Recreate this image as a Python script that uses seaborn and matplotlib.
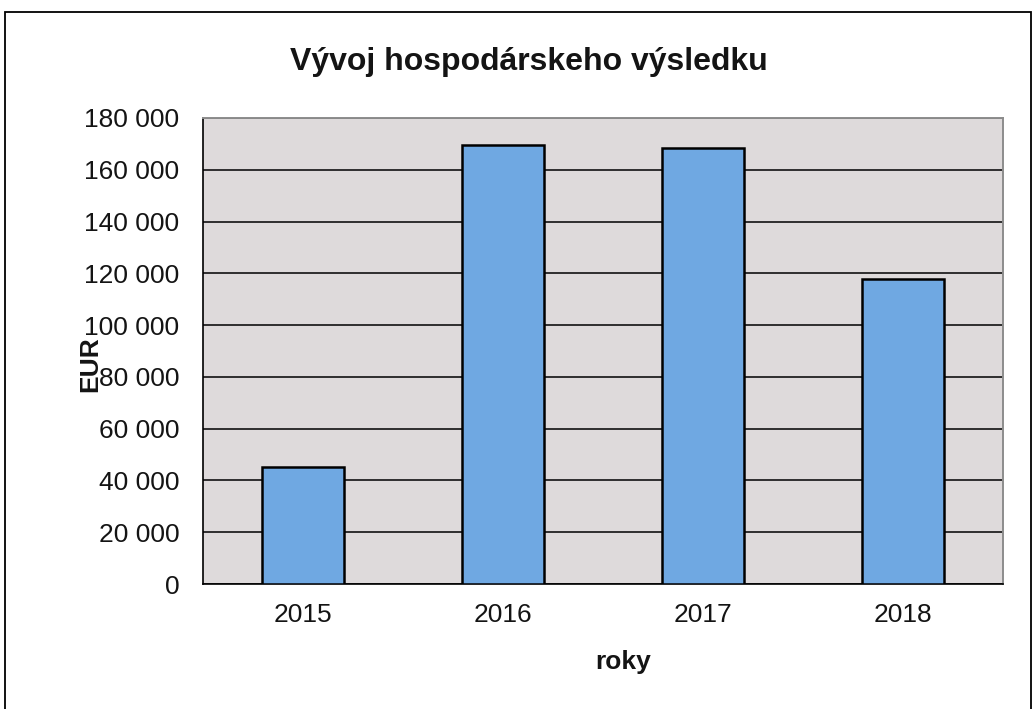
import matplotlib
matplotlib.use("Agg")
import matplotlib.pyplot as plt
import seaborn as sns
import pandas as pd
from matplotlib.patches import Rectangle
from matplotlib.ticker import FuncFormatter, MultipleLocator

years = ["2015", "2016", "2017", "2018"]
values = [45000, 169500, 168300, 117700]

df = pd.DataFrame({"roky": years, "EUR": values})

sns.set_style("white")
plt.rcParams["font.family"] = ["Liberation Sans", "DejaVu Sans"]
plt.rcParams["text.color"] = "#141414"
plt.rcParams["xtick.color"] = "black"
plt.rcParams["ytick.color"] = "black"
plt.rcParams["xtick.labelcolor"] = "#141414"
plt.rcParams["ytick.labelcolor"] = "#141414"

fig = plt.figure(figsize=(10.34, 7.09), dpi=100)
ax = fig.add_axes([0.1963, 0.1763, 0.7737, 0.6573])
ax.set_facecolor("#DEDADB")

sns.barplot(data=df, x="roky", y="EUR", color="#6FA8E2", width=0.41,
            edgecolor="black", linewidth=1.8, saturation=1, ax=ax, zorder=3)

ax.set_ylim(0, 180000)
ax.set_xlim(-0.5, 3.5)
ax.yaxis.set_major_locator(MultipleLocator(20000))
ax.yaxis.set_major_formatter(FuncFormatter(lambda v, p: f"{int(v):,}".replace(",", " ")))
ax.grid(axis="y", color="black", linewidth=1.1, zorder=1)
ax.set_axisbelow(True)

# category-boundary ticks on x axis
ax.set_xticks([0, 1, 2, 3])
ax.set_xticklabels(years)
ax.set_xticks([-0.5, 0.5, 1.5, 2.5, 3.5], minor=True)
ax.tick_params(axis="x", which="major", length=0, labelsize=19, pad=14)
ax.tick_params(axis="x", which="minor", length=7, width=1.1, direction="out", color="black")
ax.tick_params(axis="y", length=9, width=1.1, direction="out", color="black", labelsize=19, pad=8)

for side in ["left", "bottom"]:
    ax.spines[side].set_color("black")
    ax.spines[side].set_linewidth(1.2)
for side in ["top", "right"]:
    ax.spines[side].set_color("#8C8C8C")
    ax.spines[side].set_linewidth(1.4)

ax.set_xlabel("")
ax.set_ylabel("")
fig.text(623 / 1034, 1 - 662 / 709, "roky", fontsize=19, fontweight="bold",
         ha="center", va="center")
fig.text(90 / 1034, 1 - 364 / 709, "EUR", rotation=90, fontsize=19, fontweight="bold",
         ha="center", va="center")

fig.text(290 / 1034, 1 - 70 / 709, "Vývoj hospodárskeho výsledku", fontsize=23,
         fontweight="bold", ha="left", va="baseline")

fig.patches.append(Rectangle((0.005, -0.01), 0.992, 0.993, transform=fig.transFigure,
                             fill=False, edgecolor="black", linewidth=1.3))

fig.savefig("out.png", dpi=100)
